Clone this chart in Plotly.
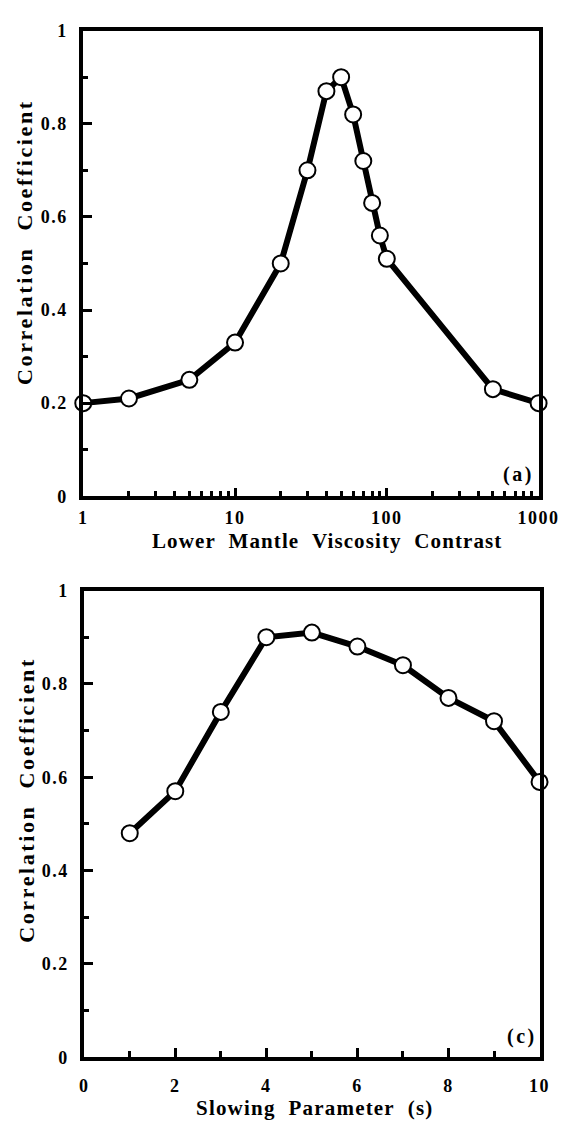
import plotly.graph_objects as go

# Panel (a): lower mantle viscosity contrast vs correlation coefficient
visc_contrast = [1, 2, 5, 10, 20, 30, 40, 50, 60, 70, 80, 90, 100, 500, 1000]
corr_a = [0.20, 0.21, 0.25, 0.33, 0.50, 0.70, 0.87, 0.90, 0.82, 0.72, 0.63, 0.56, 0.51, 0.23, 0.20]

# Panel (c): slowing parameter vs correlation coefficient
slowing = [1, 2, 3, 4, 5, 6, 7, 8, 9, 10]
corr_c = [0.48, 0.57, 0.74, 0.90, 0.91, 0.88, 0.84, 0.77, 0.72, 0.59]

y_tickvals = [0, 0.2, 0.4, 0.6, 0.8, 1]
y_ticktext = ["0", "0.2", "0.4", "0.6", "0.8", "1"]
y_minor = [0.1, 0.3, 0.5, 0.7, 0.9]
xa_tickvals = [1, 10, 100, 1000]
xa_ticktext = ["1", "10", "100", "1000"]
xa_minor = [d * m for d in (1, 10, 100) for m in range(2, 10)]
xc_tickvals = [0, 2, 4, 6, 8, 10]
xc_ticktext = ["0", "2", "4", "6", "8", "10"]
xc_minor = [1, 3, 5, 7, 9]

W, H = 572, 1134
FONT = "Liberation Serif"


def px_x(p):
    return p / W


def px_y(p):
    return 1 - p / H


def styled(t, ls=1.5):
    return f"<b><span style='letter-spacing:{ls}px'>{t}</span></b>"


fig = go.Figure()

marker = dict(symbol="circle", size=16, color="white", line=dict(color="black", width=2))
fig.add_trace(go.Scatter(x=visc_contrast, y=corr_a, mode="lines+markers",
                         line=dict(color="black", width=6), marker=marker,
                         cliponaxis=False, showlegend=False, xaxis="x", yaxis="y"))
fig.add_trace(go.Scatter(x=slowing, y=corr_c, mode="lines+markers",
                         line=dict(color="black", width=6), marker=marker,
                         cliponaxis=False, showlegend=False, xaxis="x2", yaxis="y2"))

tickfont = dict(family=FONT, size=18, color="black")
common_axis = dict(showline=True, linewidth=4, linecolor="black", mirror=True,
                   showgrid=False, zeroline=False, ticks="inside", tickwidth=3,
                   tickcolor="black", tickfont=tickfont)


def minor(vals, ln):
    return dict(tickmode="array", tickvals=vals, ticks="inside",
                ticklen=ln, tickwidth=3, tickcolor="black")


fig.update_layout(
    width=W, height=H,
    margin=dict(l=0, r=0, t=0, b=0),
    paper_bgcolor="white", plot_bgcolor="white",
    xaxis=dict(type="log", range=[0, 3], domain=[px_x(82), px_x(559)], anchor="y",
               tickmode="array", tickvals=xa_tickvals,
               ticktext=[styled(t, 1.5) for t in xa_ticktext], ticklen=8,
               ticklabelstandoff=2, minor=minor(xa_minor, 5), **common_axis),
    yaxis=dict(range=[0, 1], domain=[px_y(495), px_y(21)], anchor="x",
               tickmode="array", tickvals=y_tickvals,
               ticktext=[styled(t, 1.5) for t in y_ticktext], ticklen=9,
               ticklabelstandoff=8, minor=minor(y_minor, 5), **common_axis),
    xaxis2=dict(range=[0, 10], domain=[px_x(83), px_x(560)], anchor="y2",
                tickmode="array", tickvals=xc_tickvals,
                ticktext=[styled(t, 1.5) for t in xc_ticktext], ticklen=9,
                ticklabelstandoff=9, minor=minor(xc_minor, 6), **common_axis),
    yaxis2=dict(range=[0, 1], domain=[px_y(1066), px_y(591)], anchor="x2",
                tickmode="array", tickvals=y_tickvals,
                ticktext=[styled(t, 1.5) for t in y_ticktext], ticklen=9,
                ticklabelstandoff=8, minor=minor(y_minor, 5), **common_axis),
)

sp = "\u00a0\u00a0"
annots = [
    dict(text=styled(f"Lower{sp}Mantle{sp}Viscosity{sp}Contrast", 1.1), x=px_x(337), y=px_y(541),
         font=dict(family=FONT, size=21, color="black")),
    dict(text=styled(f"Slowing{sp}Parameter{sp}(s)", 1.2), x=px_x(325), y=px_y(1118),
         font=dict(family=FONT, size=21, color="black")),
    dict(text=styled(f"Correlation{sp}Coefficient", 2.6), x=px_x(21), y=px_y(236), textangle=-90,
         font=dict(family=FONT, size=22, color="black")),
    dict(text=styled(f"Correlation{sp}Coefficient", 2.6), x=px_x(23), y=px_y(804), textangle=-90,
         font=dict(family=FONT, size=22, color="black")),
]
for a in annots:
    fig.add_annotation(xref="paper", yref="paper", showarrow=False,
                       xanchor="center", yanchor="middle", **a)

panel_font = dict(family=FONT, size=20, color="black")
fig.add_annotation(xref="paper", yref="paper", x=px_x(538), y=px_y(473), text=styled("(a)", 2.5),
                   showarrow=False, xanchor="center", yanchor="middle", font=panel_font)
fig.add_annotation(xref="paper", yref="paper", x=px_x(542), y=px_y(1045), text=styled("(c)", 2.5),
                   showarrow=False, xanchor="center", yanchor="middle", font=panel_font)

fig.write_html("out.html")
